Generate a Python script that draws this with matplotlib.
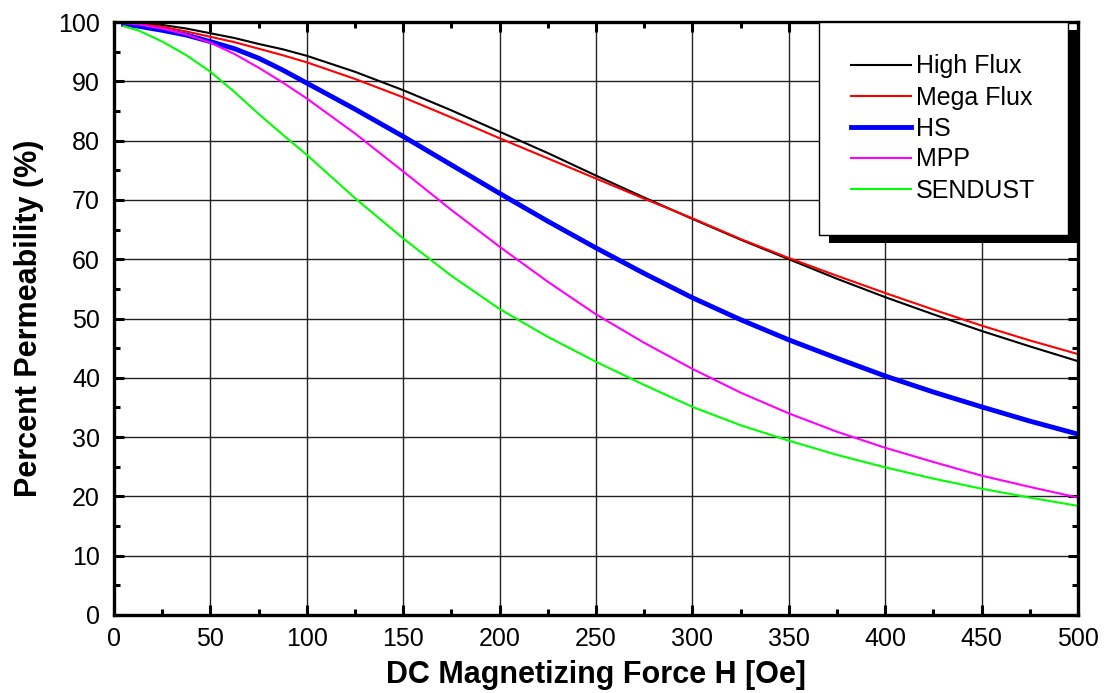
import matplotlib
matplotlib.use('Agg')
import matplotlib.pyplot as plt
from matplotlib.patches import Rectangle
from matplotlib.ticker import MultipleLocator

plt.rcParams['font.family'] = ['Liberation Sans', 'DejaVu Sans']

# DC bias curves
h_oe = [5, 12.5, 25, 37.5, 50, 62.5, 75, 87.5, 100, 125, 150, 175, 200, 225, 250,
        275, 300, 325, 350, 375, 400, 425, 450, 475, 500]
high_flux = [100, 99.9, 99.5, 98.9, 98.1, 97.3, 96.3, 95.4, 94.3, 91.6, 88.5, 85.1,
             81.5, 77.9, 74.1, 70.4, 66.8, 63.3, 60.0, 56.7, 53.6, 50.7, 47.9, 45.3, 42.8]
mega_flux = [100, 99.7, 99.2, 98.4, 97.5, 96.6, 95.5, 94.4, 93.2, 90.4, 87.3, 83.9,
             80.4, 77.0, 73.6, 70.2, 66.9, 63.4, 60.2, 57.2, 54.3, 51.5, 48.8, 46.3, 44.0]
hs = [99.6, 99.3, 98.6, 97.8, 96.7, 95.5, 93.9, 91.9, 89.7, 85.3, 80.7, 75.9,
      71.1, 66.4, 61.9, 57.6, 53.5, 49.8, 46.4, 43.3, 40.3, 37.6, 35.1, 32.7, 30.5]
mpp = [99.8, 99.6, 98.9, 97.9, 96.5, 94.6, 92.3, 89.8, 87.1, 81.2, 74.8, 68.3,
       62.1, 56.2, 50.7, 45.9, 41.5, 37.5, 34.0, 30.9, 28.2, 25.8, 23.5, 21.6, 19.8]
sendust = [99.3, 98.6, 96.7, 94.4, 91.6, 88.2, 84.5, 81.0, 77.6, 70.3, 63.5, 57.2,
           51.6, 46.9, 42.7, 38.8, 35.1, 32.0, 29.4, 27.0, 24.9, 23.0, 21.3, 19.8, 18.4]

fig = plt.figure(figsize=(11.04, 6.93), dpi=100)
ax = fig.add_axes([114 / 1104, 78 / 693, 964 / 1104, 593 / 693])

ax.plot(h_oe, high_flux, color='black', lw=1.5, label='High Flux')
ax.plot(h_oe, mega_flux, color='#ff0000', lw=1.5, label='Mega Flux')
ax.plot(h_oe, hs, color='#0000ff', lw=3.5, label='HS')
ax.plot(h_oe, mpp, color='#ff00ff', lw=1.5, label='MPP')
ax.plot(h_oe, sendust, color='#00ff00', lw=1.5, label='SENDUST')

ax.set_xlim(0, 500)
ax.set_ylim(0, 100)
ax.xaxis.set_major_locator(MultipleLocator(50))
ax.xaxis.set_minor_locator(MultipleLocator(25))
ax.yaxis.set_major_locator(MultipleLocator(10))
ax.yaxis.set_minor_locator(MultipleLocator(5))
ax.tick_params(which='both', direction='in', top=True, right=True, labelsize=18)
ax.tick_params(axis='x', pad=9)
ax.tick_params(axis='y', pad=10)
ax.tick_params(which='major', length=7, width=2.2)
ax.tick_params(which='minor', length=4, width=2.2)
for s in ax.spines.values():
    s.set_linewidth(2.4)
ax.grid(True, which='major', color='#222222', lw=1)
ax.set_axisbelow(True)

ax.set_xlabel('DC Magnetizing Force H [Oe]', fontsize=22, fontweight='bold', labelpad=6)
ax.set_ylabel('Percent Permeability (%)', fontsize=22, fontweight='bold', labelpad=10)

leg = ax.legend(loc='upper right', bbox_to_anchor=(0.9896, 1.0), borderaxespad=0,
                fontsize=18, fancybox=False, framealpha=1, edgecolor='black',
                handlelength=2.4, handletextpad=0.2, labelspacing=0.28,
                borderpad=1.3)
leg.get_frame().set_linewidth(1.0)
leg.set_zorder(6)

# solid black drop shadow behind the legend
fig.canvas.draw()
bb = leg.get_window_extent()
shadow = Rectangle((bb.x0 + 10, bb.y0 - 8), bb.width + 20, bb.height,
                   transform=None, facecolor='black', edgecolor='none', zorder=5.5)
ax.add_patch(shadow)

fig.savefig('out.png', dpi=100)
